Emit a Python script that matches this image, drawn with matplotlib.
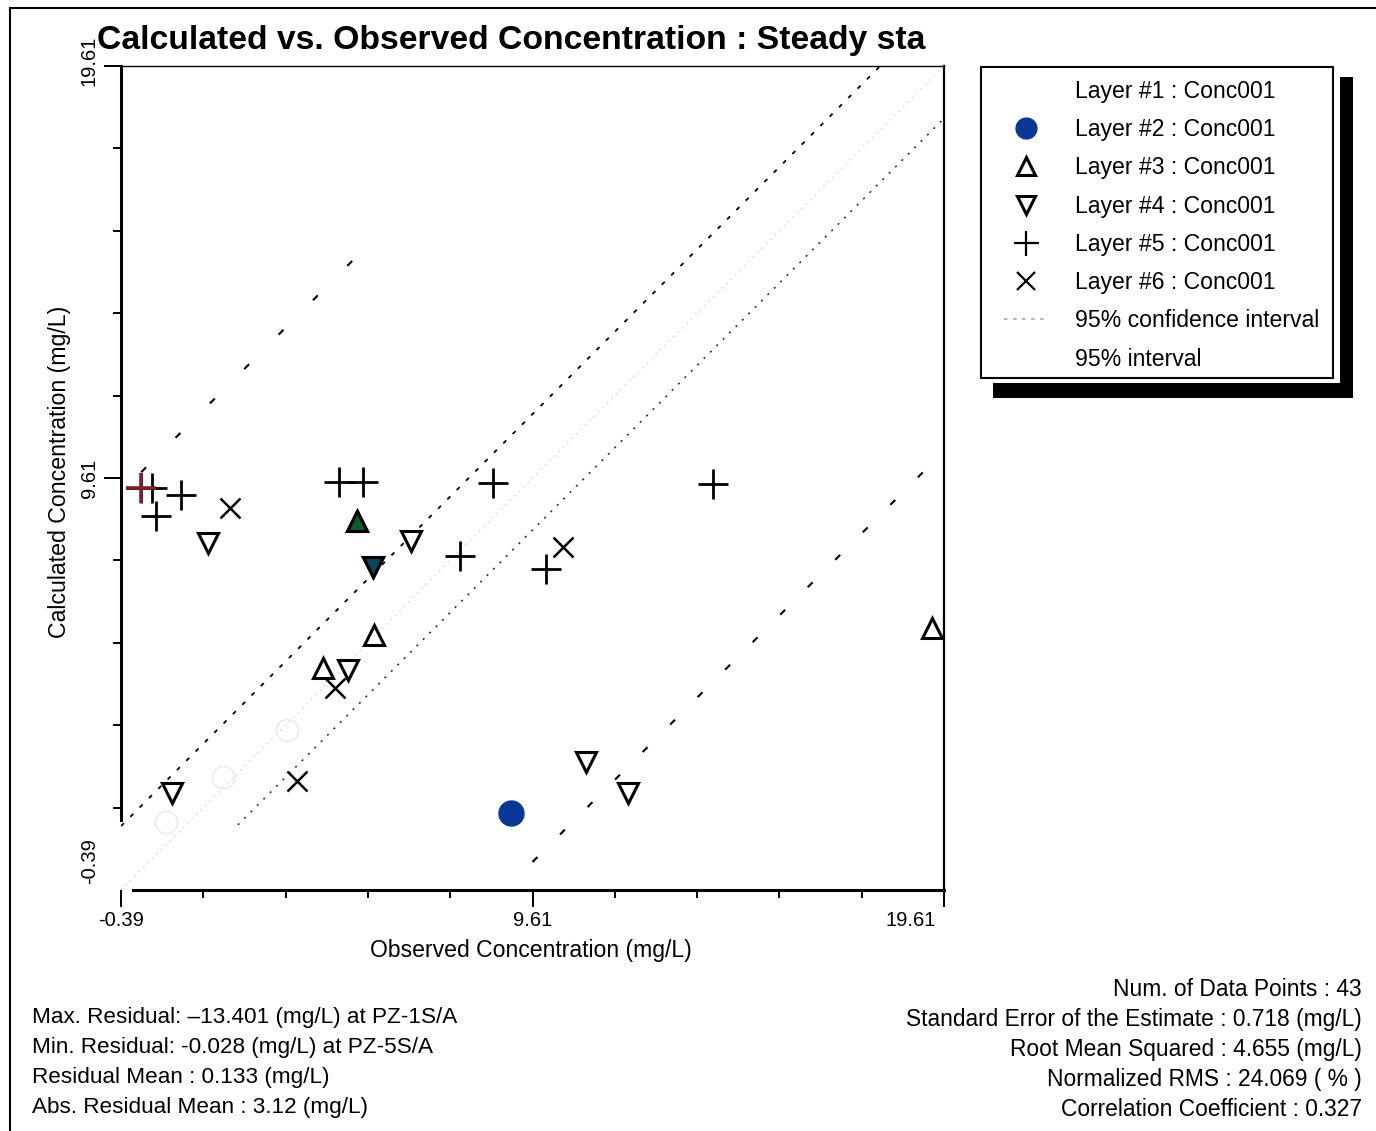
import matplotlib
matplotlib.use("Agg")
import matplotlib.pyplot as plt
from matplotlib.lines import Line2D
from matplotlib.patches import Rectangle
from matplotlib.transforms import ScaledTranslation

# observed (x) / calculated (y) concentration, mg/L
layer1_obs = [3.64, 2.09, 0.70]
layer1_calc = [3.50, 2.36, 1.26]
layer2_obs = [9.08]
layer2_calc = [1.48]
layer3_obs = [5.34, 5.75, 4.51, 19.32]
layer3_calc = [8.56, 5.79, 5.01, 5.98]
layer4_obs = [1.72, 6.65, 5.73, 5.12, 0.85, 10.90, 11.94]
layer4_calc = [8.03, 8.08, 7.44, 4.96, 1.97, 2.72, 1.97]
layer5_obs = [0.10, 0.36, 1.07, 0.46, 4.90, 5.48, 8.64, 7.86, 9.93, 14.00]
layer5_calc = [9.37, 9.37, 9.20, 8.69, 9.51, 9.51, 9.49, 7.71, 7.40, 9.46]
layer6_obs = [2.26, 10.34, 3.88, 4.80]
layer6_calc = [8.88, 7.93, 2.26, 4.52]

# interval lines (end points)
one_to_one_x = [-0.39, 19.61]
one_to_one_y = [-0.39, 19.61]
ci_upper_x = [-0.39, 18.06]
ci_upper_y = [1.16, 19.61]
ci_lower_x = [2.45, 19.61]
ci_lower_y = [1.19, 18.34]
pi_upper_x = [0.10, 5.50]
pi_upper_y = [9.75, 15.15]
pi_lower_x = [9.61, 19.61]
pi_lower_y = [0.29, 10.26]

axis_min, axis_max = -0.39, 19.61
major_ticks = [-0.39, 9.61, 19.61]
minor_ticks = [1.61, 3.61, 5.61, 7.61, 11.61, 13.61, 15.61, 17.61]

legend_labels = ["Layer #1 : Conc001", "Layer #2 : Conc001", "Layer #3 : Conc001",
                 "Layer #4 : Conc001", "Layer #5 : Conc001", "Layer #6 : Conc001",
                 "95% confidence interval", "95% interval"]

stats_left = ["Max. Residual: \u201313.401 (mg/L) at PZ-1S/A",
              "Min. Residual: -0.028 (mg/L) at PZ-5S/A",
              "Residual Mean : 0.133 (mg/L)",
              "Abs. Residual Mean : 3.12 (mg/L)"]
stats_right = ["Num. of Data Points : 43",
               "Standard Error of the Estimate : 0.718 (mg/L)",
               "Root Mean Squared : 4.655 (mg/L)",
               "Normalized RMS : 24.069 ( % )",
               "Correlation Coefficient : 0.327"]

plt.rcParams['font.family'] = ['Liberation Sans', 'DejaVu Sans']
plt.rcParams['lines.scale_dashes'] = False

W, H = 1376, 1131


def fx(px):
    return px / W


def fy(py):
    return 1 - py / H


fig = plt.figure(figsize=(W / 100, H / 100), dpi=100)

# outer frame
fig.add_artist(Line2D([fx(10), 1.0], [fy(8), fy(8)], color='black', lw=1.5, transform=fig.transFigure))
fig.add_artist(Line2D([fx(10), fx(10)], [fy(8), 0.0], color='black', lw=1.5, transform=fig.transFigure))

ax = fig.add_axes([fx(121), fy(890), (944 - 121) / W, (890 - 66) / H])
ax.set_xlim(axis_min, axis_max)
ax.set_ylim(axis_min, axis_max)

# lines
ax.plot(one_to_one_x, one_to_one_y, color='#dcdcdc', lw=1.0, ls=(0, (1.5, 3)), zorder=1)
ax.plot(ci_upper_x, ci_upper_y, color='black', lw=1.3, ls=(0, (3, 6.5)), zorder=2)
ax.plot(ci_lower_x, ci_lower_y, color='#4a3036', lw=1.2, ls=(0, (1.5, 5)), zorder=2)
ax.plot(pi_upper_x, pi_upper_y, color='black', lw=1.5, ls=(0, (5, 30)), zorder=2)
ax.plot(pi_lower_x, pi_lower_y, color='black', lw=1.5, ls=(0, (5, 23)), zorder=2)

# markers
ax.plot(layer1_obs, layer1_calc, ls='none', marker='o', ms=16, mfc='none', mec='#e8e8e8', mew=1.0, zorder=3)
ax.plot(layer2_obs, layer2_calc, ls='none', marker='o', ms=18, mfc='#0a3796', mec='#0a3796', zorder=4)
ax.plot(layer3_obs, layer3_calc, ls='none', marker='^', ms=15, mfc='white', mec='black', mew=2.2, zorder=4)
ax.plot(layer4_obs, layer4_calc, ls='none', marker='v', ms=15, mfc='white', mec='black', mew=2.2, zorder=4)
ax.plot(layer5_obs, layer5_calc, ls='none', marker='+', ms=21, mec='black', mew=2.0, zorder=5)
ax.plot(layer6_obs, layer6_calc, ls='none', marker='x', ms=14, mec='black', mew=1.8, zorder=5)

# highlighted points
ax.plot(layer3_obs[0], layer3_calc[0], ls='none', marker='^', ms=15, mfc='#0d5a2c', mec='black', mew=2.2, zorder=6)
ax.plot(layer4_obs[2], layer4_calc[2], ls='none', marker='v', ms=15, mfc='#0b4658', mec='black', mew=2.2, zorder=6)
ax.plot(layer5_obs[0], layer5_calc[0], ls='none', marker='+', ms=21, mec='#7a1f2b', mew=2.6, zorder=6)

# axes look
for side in ['top', 'right', 'left', 'bottom']:
    ax.spines[side].set_color('black')
ax.spines['top'].set_linewidth(1.0)
ax.spines['right'].set_linewidth(1.6)
ax.spines['left'].set_linewidth(2.2)
ax.spines['bottom'].set_linewidth(2.2)
ax.spines['left'].set_bounds(1.31, axis_max)
ax.spines['bottom'].set_bounds(-0.10, axis_max)

ax.set_xticks(major_ticks)
ax.set_yticks(major_ticks)
ax.set_xticks(minor_ticks, minor=True)
ax.set_yticks(minor_ticks, minor=True)
ax.set_xticklabels([f"{t:.2f}" for t in major_ticks])
ax.set_yticklabels([f"{t:.2f}" for t in major_ticks], rotation=90, va='center')
ax.tick_params(which='major', length=12, width=1.4, labelsize=14.5, pad=3)
ax.tick_params(which='minor', length=6, width=1.4)
ax.tick_params(axis='y', which='major', pad=4)
ax.yaxis.get_major_ticks()[0].tick1line.set_visible(False)

# shift end labels like the original
ylab0 = ax.get_yticklabels()[0]
ylab0.set_transform(ylab0.get_transform() + ScaledTranslation(0, 29 / 100, fig.dpi_scale_trans))
ylab2 = ax.get_yticklabels()[2]
ylab2.set_transform(ylab2.get_transform() + ScaledTranslation(0, 5 / 100, fig.dpi_scale_trans))
xlab2 = ax.get_xticklabels()[2]
xlab2.set_transform(xlab2.get_transform() + ScaledTranslation(-33 / 100, 0, fig.dpi_scale_trans))

fig.text(fx(531), fy(951), "Observed Concentration (mg/L)", ha='center', va='center', fontsize=16.6)
fig.text(fx(60), fy(472), "Calculated Concentration (mg/L)", ha='center', va='center', rotation=90, fontsize=16.7)
fig.text(fx(97), fy(40), "Calculated vs. Observed Concentration : Steady sta",
         ha='left', va='center', fontsize=24.3, fontweight='bold')

# legend box with shadow
fig.add_artist(Rectangle((fx(993), fy(398)), (1353 - 993) / W, (398 - 77) / H,
                         transform=fig.transFigure, facecolor='black', edgecolor='none', zorder=1))
fig.add_artist(Rectangle((fx(975), fy(383)), (1340 - 975) / W, (383 - 60) / H,
                         transform=fig.transFigure, facecolor='white', edgecolor='none', zorder=2))
fig.add_artist(Rectangle((fx(981), fy(378)), (1333 - 981) / W, (378 - 67) / H,
                         transform=fig.transFigure, facecolor='white', edgecolor='black', lw=1.5, zorder=3))

handles = [
    Line2D([], [], ls='none', marker='o', ms=14, mfc='none', mec='white'),
    Line2D([], [], ls='none', marker='o', ms=15, mfc='#0a3796', mec='#0a3796'),
    Line2D([], [], ls='none', marker='^', ms=13, mfc='white', mec='black', mew=2.2),
    Line2D([], [], ls='none', marker='v', ms=13, mfc='white', mec='black', mew=2.2),
    Line2D([], [], ls='none', marker='+', ms=18, mec='black', mew=1.6),
    Line2D([], [], ls='none', marker='x', ms=13, mec='black', mew=1.6),
    Line2D([], [], color='#a8a8a8', lw=1.2, ls=(0, (2.5, 4))),
    Line2D([], [], color='white', lw=1.0),
]
leg = fig.legend(handles, legend_labels, loc='upper left', bbox_to_anchor=(fx(1004), fy(80)),
                 frameon=False, fontsize=16.6, handlelength=1.95, handletextpad=1.15,
                 labelspacing=0.66, borderpad=0, borderaxespad=0)
leg.set_zorder(5)

for i, line in enumerate(stats_left):
    fig.text(fx(32), fy(1018 + i * 29.7), line, ha='left', va='center', fontsize=16.2)
for i, line in enumerate(stats_right):
    fig.text(fx(1362), fy(990 + i * 29.8), line, ha='right', va='center', fontsize=16.4)

fig.savefig("out.png", dpi=100)
